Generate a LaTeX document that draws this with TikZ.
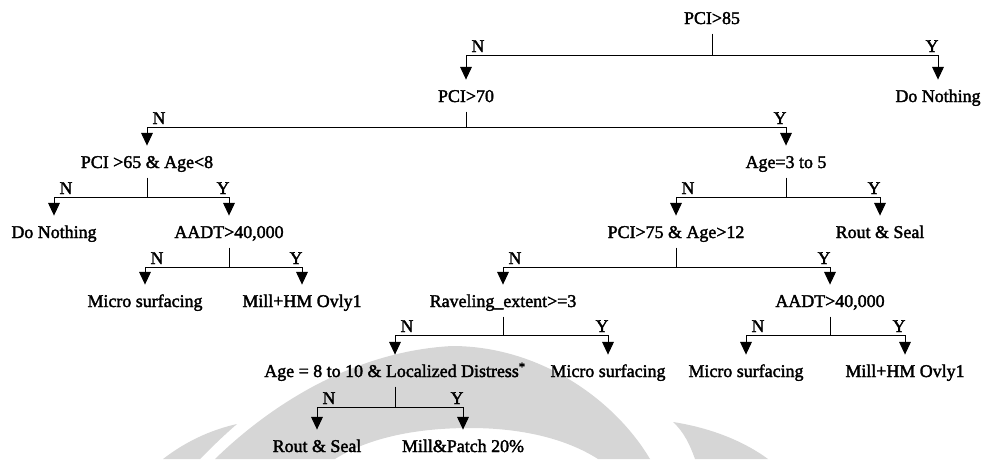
\documentclass[tikz,border=0pt]{standalone}
\usepackage{fontspec}
\newfontfamily\treefont{Liberation Serif}[FakeBold=2]
\usetikzlibrary{arrows.meta}

\tikzset{
  cond/.style={font=\treefont\fontsize{15.3}{18}\selectfont, inner sep=0pt,
    text height=10.1pt, text depth=0pt, anchor=base},
  stem/.style={line width=0.85pt, shorten <=2.8mm},
  arr/.style={line width=0.85pt, -{Triangle[width=3.5mm,length=3.8mm]}, shorten >=3.1mm},
  nlbl/.style={font=\treefont\fontsize{15.3}{18}\selectfont, inner sep=0pt,
    pos=0.5, anchor=base west, xshift=1.5mm, yshift=0.9mm},
  ylbl/.style={font=\treefont\fontsize{15.3}{18}\selectfont, inner sep=0pt,
    pos=0.5, anchor=base east, xshift=0.3mm, yshift=0.9mm},
  wmark/.style={fill=black!16}
}

\begin{document}
\begin{tikzpicture}[x=0.3mm, y=-0.3mm]
    \useasboundingbox (0,0) rectangle (986,459);

    % Watermark in the background
    \fill[wmark] (215,459) .. controls (255,420) and (340,352) .. (452,346)
        .. controls (540,346) and (615,400) .. (650,459) -- (598,459)
        .. controls (565,438) and (520,428) .. (470,428)
        .. controls (410,428) and (365,440) .. (335,459) -- cycle;
    \fill[wmark] (163,459) .. controls (185,442) and (210,430) .. (237,424)
        .. controls (222,437) and (210,449) .. (200,459) -- cycle;
    \fill[wmark] (673,422) .. controls (712,428) and (745,442) .. (768,459)
        -- (695,459) .. controls (690,445) and (684,432) .. (673,422) -- cycle;

    % Define the branch points
    \coordinate (j1) at (712,55);
    \coordinate (j2) at (466,127);
    \coordinate (j3) at (147,197);
    \coordinate (j4) at (786,197);
    \coordinate (j5) at (229,267);
    \coordinate (j6) at (676,267);
    \coordinate (j7) at (503,335);
    \coordinate (j8) at (830,335);
    \coordinate (j9) at (395,407);

    % Place the conditions and the treatments
    \node[cond] (pci85) at (712,24) {PCI>85};
    \node[cond] (pci70) at (466,102) {PCI>70};
    \node[cond] (none1) at (938,102) {Do Nothing};
    \node[cond] (pci65) at (147,168) {PCI >65 \& Age<8};
    \node[cond] (age35) at (786,168) {Age=3 to 5};
    \node[cond] (none2) at (54,238) {Do Nothing};
    \node[cond] (aadt1) at (229,238) {AADT>40,000};
    \node[cond] (pci75) at (676,238) {PCI>75 \& Age>12};
    \node[cond] (seal1) at (880,238) {Rout \& Seal};
    \node[cond] (micro1) at (145,307) {Micro surfacing};
    \node[cond] (mill1) at (302,307) {Mill+HM Ovly1};
    \node[cond] (ravel) at (503,307) {Raveling\_extent>=3};
    \node[cond] (aadt2) at (830,307) {AADT>40,000};
    \node[cond] (age810) at (395,377) {Age = 8 to 10 \& Localized Distress\textsuperscript{*}};
    \node[cond] (micro2) at (608,377) {Micro surfacing};
    \node[cond] (micro3) at (746,377) {Micro surfacing};
    \node[cond] (mill2) at (905,377) {Mill+HM Ovly1};
    \node[cond] (seal2) at (317,452) {Rout \& Seal};
    \node[cond] (patch) at (463,452) {Mill\&Patch 20\%};

    % Draw the splits
    \draw[stem] (pci85.south) -- (j1);
    \draw[arr] (j1) -| node[nlbl] {N} (pci70);
    \draw[arr] (j1) -| node[ylbl] {Y} (none1);

    \draw[stem] (pci70.south) -- (j2);
    \draw[arr] (j2) -| node[nlbl] {N} (pci65);
    \draw[arr] (j2) -| node[ylbl] {Y} (age35);

    \draw[stem] (pci65.south) -- (j3);
    \draw[arr] (j3) -| node[nlbl] {N} (none2);
    \draw[arr] (j3) -| node[ylbl] {Y} (aadt1);

    \draw[stem] (age35.south) -- (j4);
    \draw[arr] (j4) -| node[nlbl] {N} (pci75);
    \draw[arr] (j4) -| node[ylbl] {Y} (seal1);

    \draw[stem] (aadt1.south) -- (j5);
    \draw[arr] (j5) -| node[nlbl] {N} (micro1);
    \draw[arr] (j5) -| node[ylbl] {Y} (mill1);

    \draw[stem] (pci75.south) -- (j6);
    \draw[arr] (j6) -| node[nlbl] {N} (ravel);
    \draw[arr] (j6) -| node[ylbl] {Y} (aadt2);

    \draw[stem] (ravel.south) -- (j7);
    \draw[arr] (j7) -| node[nlbl] {N} (age810);
    \draw[arr] (j7) -| node[ylbl] {Y} (micro2);

    \draw[stem] (aadt2.south) -- (j8);
    \draw[arr] (j8) -| node[nlbl] {N} (micro3);
    \draw[arr] (j8) -| node[ylbl] {Y} (mill2);

    \draw[stem] (age810.south) -- (j9);
    \draw[arr] (j9) -| node[nlbl] {N} (seal2);
    \draw[arr] (j9) -| node[ylbl] {Y} (patch);

\end{tikzpicture}
\end{document}
